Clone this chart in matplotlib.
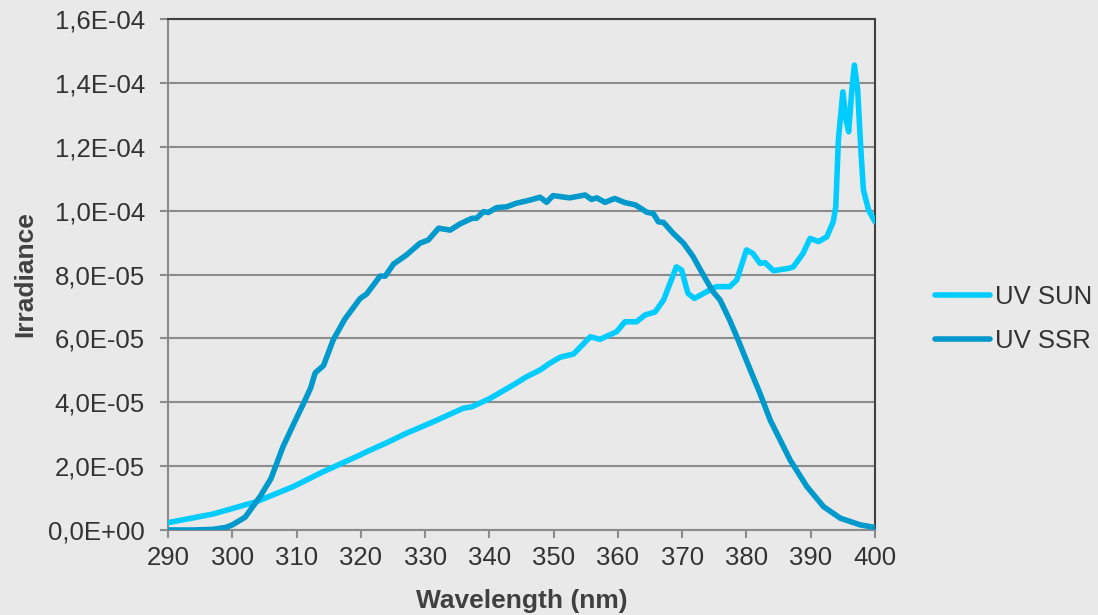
import matplotlib
matplotlib.use("Agg")
import matplotlib.pyplot as plt
from matplotlib.ticker import FuncFormatter, MultipleLocator

plt.rcParams['font.family'] = ['Liberation Sans', 'DejaVu Sans']

# UV SUN (light cyan) - wavelength (nm), irradiance (1e-5 units)
sun_wl = [290, 297, 303.8, 309.5, 314.2, 319.9, 320.9, 324.0, 327.1, 331.3, 335.9, 337.3,
          340.1, 343.7, 345.8, 347.9, 349.4, 351.0, 353.1, 355.7, 357.2, 359.8, 361.1,
          362.9, 364.2, 365.8, 367.1, 368.1, 369.1, 369.9, 370.9, 371.9, 373.8, 375.3,
          377.4, 378.5, 380.0, 381.0, 382.1, 382.9, 384.2, 386.5, 387.3, 388.8, 389.9,
          391.2, 392.5, 393.5, 393.9, 394.3, 395.0, 395.5, 395.9, 396.4, 396.8, 397.3,
          397.8, 398.2, 399.0, 400.0]
sun_val = [0.23, 0.50, 0.89, 1.36, 1.83, 2.35, 2.45, 2.73, 3.03, 3.39, 3.81, 3.86,
           4.12, 4.54, 4.80, 5.01, 5.22, 5.41, 5.51, 6.05, 5.97, 6.21, 6.52,
           6.52, 6.73, 6.83, 7.20, 7.72, 8.24, 8.14, 7.41, 7.25, 7.46, 7.62,
           7.62, 7.83, 8.77, 8.66, 8.35, 8.37, 8.12, 8.19, 8.24, 8.66, 9.13,
           9.03, 9.18, 9.65, 10.12, 12.21, 13.72, 12.84, 12.47, 13.78, 14.56, 13.78,
           11.90, 10.64, 10.02, 9.65]

# UV SSR (darker blue)
ssr_wl = [290, 294, 297, 299, 300, 302, 304.3, 306, 307.9, 309.5, 311.1, 312.2, 312.9,
          314.2, 315.7, 317.5, 319.9, 320.9, 323.0, 323.8, 325.1, 327.1, 329.2, 330.5,
          332.1, 333.9, 335.4, 337.3, 338.0, 339.1, 339.8, 341.1, 342.7, 344.2, 346.3,
          347.9, 348.9, 349.9, 352.5, 354.9, 355.9, 356.7, 358.0, 359.5, 361.1, 362.7,
          364.5, 365.5, 366.3, 367.1, 368.6, 370.2, 371.7, 373.3, 374.8, 375.9, 377.4,
          378.5, 380.6, 382.1, 383.7, 386.8, 389.4, 392.0, 394.6, 397.7, 400.0]
ssr_val = [0.0, 0.0, 0.02, 0.08, 0.16, 0.40, 1.04, 1.60, 2.61, 3.30, 3.97, 4.45, 4.92,
           5.15, 5.95, 6.60, 7.25, 7.39, 7.95, 7.95, 8.33, 8.61, 8.98, 9.08,
           9.45, 9.39, 9.58, 9.76, 9.76, 9.97, 9.94, 10.09, 10.12, 10.23, 10.33,
           10.42, 10.26, 10.47, 10.40, 10.49, 10.35, 10.40, 10.26, 10.38, 10.25, 10.18,
           9.95, 9.91, 9.65, 9.63, 9.29, 8.98, 8.56, 7.98, 7.46, 7.20, 6.57,
           6.05, 5.01, 4.28, 3.44, 2.19, 1.36, 0.73, 0.37, 0.16, 0.08]

x_ticks = list(range(290, 401, 10))

bg = '#e9e9e9'
fig = plt.figure(figsize=(10.98, 6.15), dpi=100, facecolor=bg)
ax = fig.add_axes([168/1098, 1-530/615, (875-168)/1098, (530-19)/615], facecolor=bg)

ax.plot(sun_wl, [v*1e-5 for v in sun_val], color='#00ccff', lw=4, label='UV SUN',
        solid_capstyle='round', solid_joinstyle='round', zorder=3)
ax.plot(ssr_wl, [v*1e-5 for v in ssr_val], color='#0099cc', lw=4, label='UV SSR',
        solid_capstyle='round', solid_joinstyle='round', zorder=3)

ax.set_xlim(290, 400)
ax.set_ylim(0, 1.6e-4)
ax.set_xticks(x_ticks)
ax.yaxis.set_major_locator(MultipleLocator(2e-5))

def yfmt(v, pos):
    s = f"{v:.1E}"
    return s.replace('.', ',')
ax.yaxis.set_major_formatter(FuncFormatter(yfmt))

ax.grid(axis='y', color='#8c8c8c', lw=1.5, zorder=1)
ax.set_axisbelow(True)
for side in ['left', 'bottom']:
    ax.spines[side].set_color('#8c8c8c')
    ax.spines[side].set_linewidth(1.5)
for side in ['top', 'right']:
    ax.spines[side].set_color('#404040')
    ax.spines[side].set_linewidth(1.5)

ax.tick_params(axis='both', direction='out', length=5.5, width=1.5, color='#8c8c8c',
               labelsize=18.5, labelcolor='#333333')
ax.tick_params(axis='y', pad=11)
ax.tick_params(axis='x', pad=6)

ax.set_xlabel('Wavelength (nm)', fontsize=19, fontweight='bold', color='#404040', labelpad=14)
ax.set_ylabel('Irradiance', fontsize=19, fontweight='bold', color='#404040', labelpad=8)

leg = fig.legend(loc='center left', bbox_to_anchor=(935/1098, 1-319/615), frameon=False,
                 fontsize=18.5, handlelength=2.15, handletextpad=0.2, labelspacing=0.8,
                 borderaxespad=0, borderpad=0)
for t in leg.get_texts():
    t.set_color('#333333')
for l in leg.get_lines():
    l.set_linewidth(4)

fig.savefig('out.png', dpi=100, facecolor=bg)
